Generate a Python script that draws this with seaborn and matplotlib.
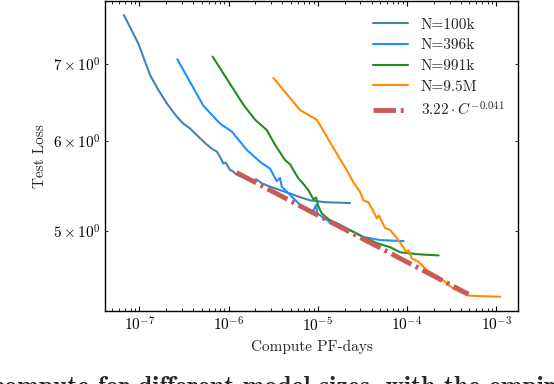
import numpy as np
import pandas as pd
import matplotlib
matplotlib.use("Agg")
import matplotlib.pyplot as plt
import seaborn as sns

# ---- data ----
c_100k = [6.73e-8, 9.75e-8, 1.32e-7, 1.63e-7, 2.03e-7, 2.62e-7, 3.05e-7, 3.70e-7,
          4.20e-7, 4.79e-7, 5.6e-7, 6.6e-7, 7.38e-7, 8.1e-7, 8.75e-7, 9.3e-7,
          1.04e-6, 1.12e-6, 1.24e-6, 1.5e-6, 1.85e-6, 2.05e-6, 2.36e-6, 2.9e-6,
          3.78e-6, 5.0e-6, 6.5e-6, 8.2e-6, 1.2e-5, 1.7e-5, 2.30e-5]
l_100k = [7.73, 7.30, 6.85, 6.65, 6.47, 6.30, 6.22, 6.15,
          6.09, 6.03, 5.96, 5.90, 5.87, 5.80, 5.73, 5.74,
          5.655, 5.64, 5.60, 5.57, 5.535, 5.55, 5.505, 5.47,
          5.43, 5.39, 5.35, 5.32, 5.30, 5.295, 5.29]

c_396k = [2.67e-7, 5.21e-7, 8.04e-7, 1.09e-6, 1.60e-6, 2.25e-6, 2.92e-6, 3.47e-6,
          3.78e-6, 3.94e-6, 5.11e-6, 6.34e-6, 7.53e-6, 8.93e-6, 9.57e-6, 9.9e-6,
          1.37e-5, 2.30e-5, 3.24e-5, 4.99e-5, 9.16e-5]
l_396k = [7.07, 6.44, 6.21, 6.11, 5.89, 5.75, 5.67, 5.53,
          5.565, 5.47, 5.36, 5.27, 5.22, 5.21, 5.27, 5.18,
          5.09, 5.01, 4.94, 4.91, 4.90]

c_991k = [6.62e-7, 1.09e-6, 1.47e-6, 1.98e-6, 2.68e-6, 3.32e-6, 4.30e-6, 4.89e-6,
          6.06e-6, 6.62e-6, 7.85e-6, 8.93e-6, 9.57e-6, 1.02e-5, 1.11e-5, 1.37e-5,
          1.63e-5, 2.40e-5, 3.24e-5, 4.58e-5, 6.47e-5, 8.38e-5, 1.40e-4, 2.26e-4]
l_991k = [7.11, 6.69, 6.45, 6.26, 6.13, 5.95, 5.77, 5.72,
          5.56, 5.52, 5.43, 5.33, 5.35, 5.25, 5.18, 5.11,
          5.08, 5.00, 4.94, 4.88, 4.84, 4.79, 4.77, 4.76]

c_9m = [3.18e-6, 6.34e-6, 9.75e-6, 1.26e-5, 1.73e-5, 2.11e-5, 2.49e-5, 2.98e-5,
        3.24e-5, 3.69e-5, 4.20e-5, 4.58e-5, 4.84e-5, 5.69e-5, 6.47e-5, 7.69e-5,
        9.95e-5, 1.04e-4, 1.13e-4, 1.34e-4, 1.67e-4, 2.25e-4, 2.79e-4, 3.31e-4,
        4.88e-4, 6.6e-4, 1.11e-3]
l_9m = [6.81, 6.38, 6.26, 6.05, 5.80, 5.655, 5.52, 5.41,
        5.32, 5.30, 5.20, 5.13, 5.16, 5.03, 5.01, 4.93,
        4.79, 4.81, 4.73, 4.70, 4.62, 4.56, 4.50, 4.45,
        4.39, 4.385, 4.38]

fit_a = 3.22
fit_b = 0.041
fit_range = [1.23e-6, 4.88e-4]

series_names = ["N=100k", "N=396k", "N=991k", "N=9.5M"]
series_colors = ["#4682b4", "#1e90ff", "#228b22", "#ff8c00"]

caption = "compute for different model sizes, with the empirical"

# ---- style ----
sns.set_style("ticks")
plt.rcParams.update({
    "font.family": ["serif"],
    "font.serif": ["cmr10", "DejaVu Serif"],
    "mathtext.fontset": "cm",
    "axes.formatter.use_mathtext": True,
    "axes.unicode_minus": False,
    "xtick.direction": "in",
    "ytick.direction": "in",
    "xtick.top": True,
    "ytick.right": True,
    "axes.linewidth": 1.0,
    "xtick.color": "black",
    "ytick.color": "black",
    "axes.edgecolor": "black",
})

fig = plt.figure(figsize=(5.54, 3.84), dpi=100)
ax = fig.add_axes([0.190, 0.190, 0.745, 0.807])

frames = []
for name, cx, ly in zip(series_names, [c_100k, c_396k, c_991k, c_9m],
                        [l_100k, l_396k, l_991k, l_9m]):
    frames.append(pd.DataFrame({"compute": cx, "loss": ly, "model": name}))
df = pd.concat(frames, ignore_index=True)

sns.lineplot(data=df, x="compute", y="loss", hue="model", hue_order=series_names,
             palette=series_colors, estimator=None, sort=False, linewidth=1.5,
             ax=ax)

fit_c = np.logspace(np.log10(fit_range[0]), np.log10(fit_range[1]), 100)
fit_l = fit_a * fit_c ** (-fit_b)
sns.lineplot(x=fit_c, y=fit_l, ax=ax, color="#c85a5a", linewidth=3.5,
             label=r"$3.22\cdot C^{-0.041}$", dashes=False)
ax.lines[-1].set_dashes([4.6, 1.0, 0.6, 1.0])
ax.lines[-1].set_dash_capstyle("butt")

ax.set_xscale("log")
ax.set_yscale("log")
ax.set_xlim(10 ** -7.381, 10 ** -2.757)
ax.set_ylim(4.255, 7.95)

ax.set_xlabel("Compute PF-days", fontsize=11)
ax.set_ylabel("Test Loss", fontsize=11)
ax.tick_params(axis="both", which="both", labelsize=11)

leg = ax.legend(loc="upper right", bbox_to_anchor=(1.0, 0.99), frameon=False,
                fontsize=11, handlelength=2.3, labelspacing=0.45)

fig.text(-0.012, -0.027, caption, fontsize=18.5, family="cmb10",
         ha="left", va="baseline")

fig.savefig("out.png", dpi=100)
